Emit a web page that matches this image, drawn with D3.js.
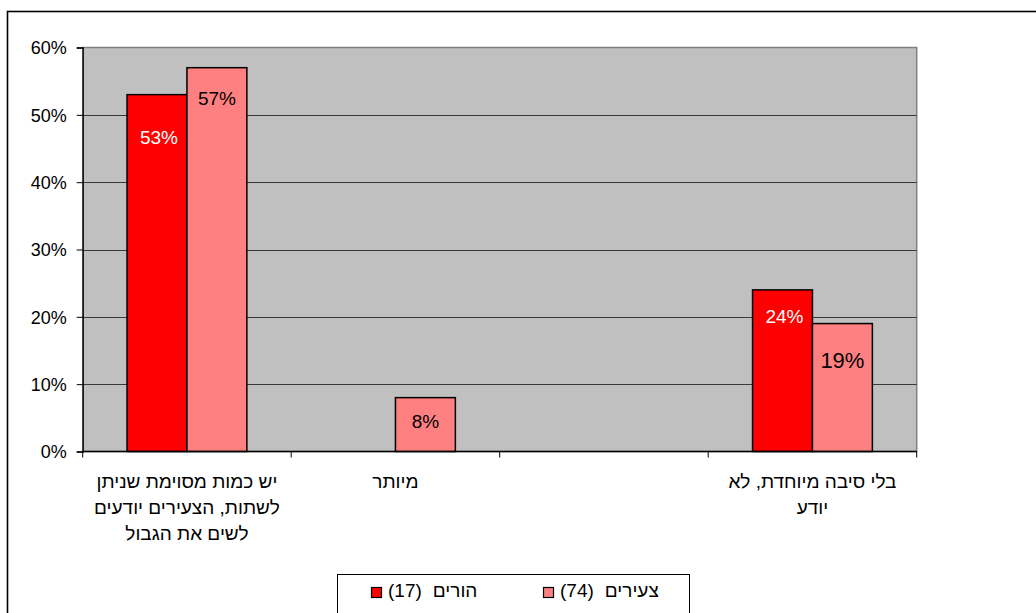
<!DOCTYPE html>
<html><head><meta charset="utf-8">
<script src="https://cdn.jsdelivr.net/npm/d3@7"></script>
<style>
html,body{margin:0;padding:0;background:#fff;}
svg{display:block;font-family:"Liberation Sans",Arial,sans-serif;}
text{white-space:pre;}
</style></head>
<body>
<svg id="chart" width="1036" height="613"></svg>
<script>
// ---- data ----
const categories = [
  ["יש כמות מסוימת שניתן", "לשתות, הצעירים יודעים", "לשים את הגבול"],
  ["מיותר"],
  [""],
  ["בלי סיבה מיוחדת, לא", "יודע"]
];
const seriesNames = ["הורים", "צעירים"];
const seriesN = [17, 74];
const parents = [53, null, null, 24];
const youth = [57, 8, null, 19];
const yTicks = [0, 10, 20, 30, 40, 50, 60];

// ---- layout ----
const svg = d3.select("#chart");
const plot = {left: 82.7, right: 916.7, top: 47.5, bottom: 451.5};
const colors = ["#FF0000", "#FF8080"];
const labelColors = ["#fff", "#000"];
const series = [parents, youth];

// outer chart border
svg.append("rect").attr("x", 7.5).attr("y", 11.5).attr("width", 1100).attr("height", 700)
  .attr("fill", "#fff").attr("stroke", "#000").attr("stroke-width", 1.6);

const x0 = d3.scaleBand().domain(d3.range(categories.length)).range([plot.left, plot.right]).padding(0);
const gapRatio = 1.48;
const barW = x0.bandwidth() / (series.length + gapRatio);
const off = x0.bandwidth() * gapRatio / (series.length + gapRatio) / 2;
const x1 = d3.scaleBand().domain(d3.range(series.length))
  .range([off, off + barW * series.length]).padding(0);
const y = d3.scaleLinear().domain([0, 60]).range([plot.bottom, plot.top]);

// plot background
svg.append("rect").attr("x", plot.left).attr("y", plot.top)
  .attr("width", plot.right - plot.left).attr("height", plot.bottom - plot.top)
  .attr("fill", "#C0C0C0").attr("stroke", "#808080").attr("stroke-width", 1.5);

// gridlines
svg.append("g").selectAll("line").data(yTicks.filter(t => t > 0 && t < 60)).join("line")
  .attr("x1", plot.left).attr("x2", plot.right)
  .attr("y1", d => Math.round(y(d)) + 0.5).attr("y2", d => Math.round(y(d)) + 0.5)
  .attr("stroke", "#3a3a3a").attr("stroke-width", 1);

// bars
series.forEach((vals, si) => {
  const data = vals.map((v, i) => ({v, i})).filter(d => d.v !== null && d.v > 0);
  svg.append("g").selectAll("rect").data(data).join("rect")
    .attr("x", d => x0(d.i) + x1(si))
    .attr("y", d => y(d.v))
    .attr("width", x1.bandwidth())
    .attr("height", d => y(0) - y(d.v))
    .attr("fill", colors[si]).attr("stroke", "#000").attr("stroke-width", 1.5);
});

// value labels (inside end)
const labelNudge = {"0-0": 49, "1-0": 37, "0-3": 33, "1-3": 44, "1-1": 30};
const labelSize = {"1-3": 22};
series.forEach((vals, si) => {
  vals.forEach((v, i) => {
    if (v === null || v <= 0) return;
    const key = si + "-" + i;
    svg.append("text")
      .attr("x", x0(i) + x1(si) + x1.bandwidth() / 2 + (si === 0 ? 2 : 0))
      .attr("y", y(v) + (labelNudge[key] || 30))
      .attr("text-anchor", "middle")
      .attr("font-size", labelSize[key] || 19)
      .attr("fill", labelColors[si])
      .text(v + "%");
  });
});

// axes
const yAxis = d3.axisLeft(y).tickValues(yTicks).tickFormat(d => d + "%").tickSize(6).tickPadding(10);
const gy = svg.append("g").attr("transform", `translate(${plot.left},0)`).call(yAxis);
gy.select(".domain").attr("stroke", "#000").attr("stroke-width", 1.3);
gy.selectAll(".tick line").attr("stroke", "#000");
gy.selectAll(".tick text").attr("font-size", 18).attr("fill", "#000")
  .attr("font-family", "'Liberation Sans',Arial,sans-serif").attr("dy", "0.36em");

svg.append("line").attr("x1", plot.left).attr("x2", plot.right)
  .attr("y1", plot.bottom).attr("y2", plot.bottom).attr("stroke", "#000").attr("stroke-width", 1.3);
const bounds = d3.range(categories.length + 1).map(i => plot.left + i * x0.step());
svg.append("g").selectAll("line").data(bounds).join("line")
  .attr("x1", d => d).attr("x2", d => d)
  .attr("y1", plot.bottom).attr("y2", plot.bottom + 6)
  .attr("stroke", "#000").attr("stroke-width", 1);

// category labels (right-to-left Hebrew)
categories.forEach((lines, i) => {
  const cx = x0(i) + x0.bandwidth() / 2;
  lines.forEach((ln, k) => {
    if (!ln) return;
    svg.append("text").attr("x", cx).attr("y", 488 + k * 26)
      .attr("direction", "rtl").attr("text-anchor", "middle")
      .attr("font-size", 19).attr("fill", "#000").text(ln);
  });
});

// legend
const leg = svg.append("g");
leg.append("rect").attr("x", 337.5).attr("y", 574.5).attr("width", 352).attr("height", 60)
  .attr("fill", "#fff").attr("stroke", "#000").attr("stroke-width", 1);
const legX = [371, 543];
seriesNames.forEach((name, si) => {
  leg.append("rect").attr("x", legX[si] + 0.5).attr("y", 587.5).attr("width", 10).attr("height", 10)
    .attr("fill", colors[si]).attr("stroke", "#000").attr("stroke-width", 1.2);
  const t1 = leg.append("text").attr("x", legX[si] + 17).attr("y", 597)
    .attr("font-size", 19).attr("fill", "#000").text("(" + seriesN[si] + ")");
  const w1 = t1.node().getComputedTextLength();
  leg.append("text").attr("x", legX[si] + 17 + w1 + 11).attr("y", 597)
    .attr("font-size", 19).attr("fill", "#000").text(name);
});
</script>
</body></html>
